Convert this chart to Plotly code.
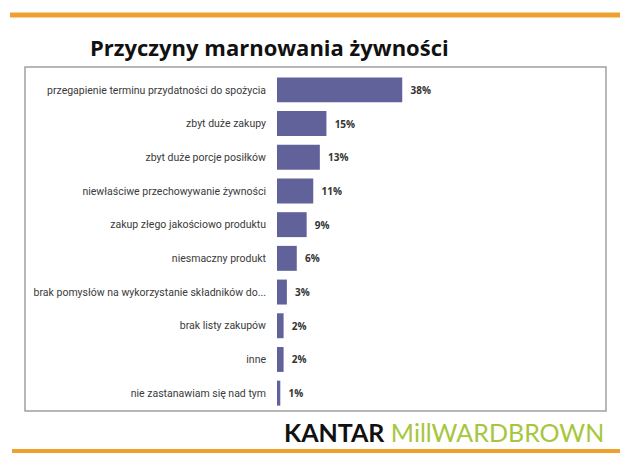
import plotly.graph_objects as go

# Dane z wykresu
reasons = [
    "przegapienie terminu przydatności do spożycia",
    "zbyt duże zakupy",
    "zbyt duże porcje posiłków",
    "niewłaściwe przechowywanie żywności",
    "zakup złego jakościowo produktu",
    "niesmaczny produkt",
    "brak pomysłów na wykorzystanie składników do...",
    "brak listy zakupów",
    "inne",
    "nie zastanawiam się nad tym",
]
shares = [38, 15, 13, 11, 9, 6, 3, 2, 2, 1]
value_labels = [f"{v}%" for v in shares]

# strona ma 8px marginesu, wiec wszystko przesuniete o 8px
L, T, W, H = 269, 65, 323, 337

def px(x):
    return (x - 277) / W

def py(y):
    return (410 - y) / H

fig = go.Figure(go.Bar(
    x=shares,
    y=reasons,
    orientation="h",
    marker_color="#62629a",
    marker_line_width=0,
    text=value_labels,
    texttemplate="\u00a0\u00a0%{text}",
    textposition="outside",
    textfont=dict(family="Open Sans", size=10, color="#333333", weight="bold"),
    cliponaxis=False,
    width=0.74,
))

fig.update_layout(
    width=630,
    height=465,
    margin=dict(l=L, r=630 - L - W, t=T, b=465 - T - H, autoexpand=False),
    paper_bgcolor="white",
    plot_bgcolor="white",
    showlegend=False,
    font=dict(family="Open Sans", color="#404040"),
    xaxis=dict(range=[0, 98], visible=False, fixedrange=True),
    yaxis=dict(
        autorange="reversed",
        showgrid=False,
        showline=False,
        ticks="",
        ticklabelstandoff=10,
        tickfont=dict(family="Roboto", size=10.5, color="#3a3a3a"),
        fixedrange=True,
    ),
    annotations=[
        dict(
            text="<b>Przyczyny marnowania żywności</b>",
            xref="paper", yref="paper",
            x=px(88), y=py(47),
            xanchor="left", yanchor="middle",
            showarrow=False,
            font=dict(family="Open Sans", size=22, color="#111111"),
        ),
        dict(
            text="<b>KANTAR</b> <span style='color:#a6c63c'>MillWARDBROWN</span>",
            xref="paper", yref="paper",
            x=px(606), y=py(432),
            xanchor="right", yanchor="middle",
            showarrow=False,
            font=dict(family="Lato", size=25, color="#111111"),
        ),
    ],
    shapes=[
        # ramka wykresu
        dict(type="rect", xref="paper", yref="paper",
             x0=px(25), x1=px(606), y0=py(411), y1=py(67),
             line=dict(color="#a0a0a0", width=1.5), layer="below"),
        # gorna pomaranczowa linia
        dict(type="line", xref="paper", yref="paper",
             x0=px(10), x1=px(620), y0=py(15), y1=py(15),
             line=dict(color="#f0a030", width=5)),
        # dolna pomaranczowa linia
        dict(type="line", xref="paper", yref="paper",
             x0=px(12), x1=px(620), y0=py(451), y1=py(451),
             line=dict(color="#f0a030", width=4)),
    ],
)

fig.write_html("out.html")
